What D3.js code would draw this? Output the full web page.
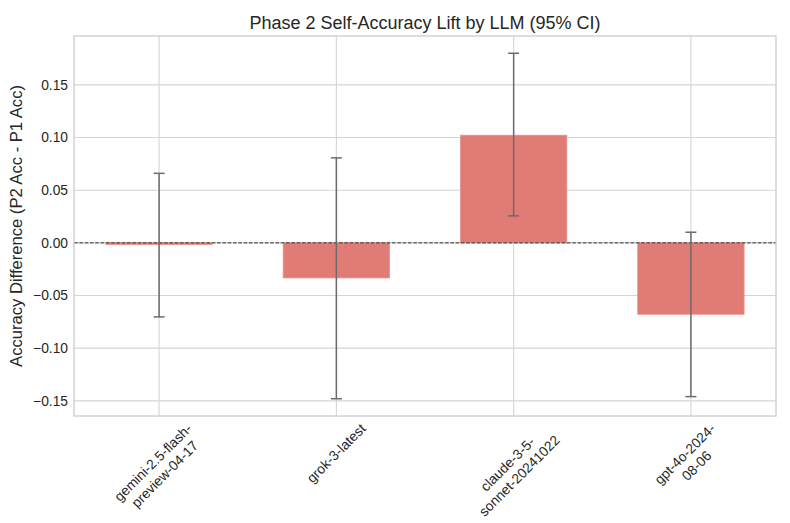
<!DOCTYPE html>
<html>
<head>
<meta charset="utf-8">
<script src="https://cdn.jsdelivr.net/npm/d3@7"></script>
<style>
  body { margin: 0; background: #fff; }
  svg { font-family: "Liberation Sans", Arial, Helvetica, sans-serif; }
</style>
</head>
<body>
<div id="chart"></div>
<script>
// Data
const models = ["gemini-2.5-flash-\npreview-04-17", "grok-3-latest", "claude-3-5-\nsonnet-20241022", "gpt-4o-2024-\n08-06"];
const lift = [-0.0015, -0.0333, 0.1022, -0.0678];
const ciLow = [-0.0703, -0.1480, 0.0256, -0.1460];
const ciHigh = [0.0660, 0.0807, 0.1800, 0.0101];
const yTicks = [-0.15, -0.10, -0.05, 0.00, 0.05, 0.10, 0.15];

// Set up dimensions and margins
const margin = { top: 36, right: 14, bottom: 107, left: 74 };
const width = 790 - margin.left - margin.right;
const height = 523 - margin.top - margin.bottom;

const svgContainer = d3.select("#chart")
    .append("svg")
    .attr("width", width + margin.left + margin.right)
    .attr("height", height + margin.top + margin.bottom);

const svg = svgContainer.append("g")
    .attr("transform", `translate(${margin.left},${margin.top})`);

// Scales (matplotlib-like 5% margins)
const barW = 0.6;
const xMin = -barW / 2, xMax = models.length - 1 + barW / 2;
const xPad = (xMax - xMin) * 0.05;
const x = d3.scaleLinear()
    .domain([xMin - xPad, xMax + xPad])
    .range([0, width]);

const yLo = d3.min(ciLow), yHi = d3.max(ciHigh);
const yPad = (yHi - yLo) * 0.05;
const y = d3.scaleLinear()
    .domain([yLo - yPad, yHi + yPad])
    .range([height, 0]);

const gridColor = "#d5d5d5";
const textColor = "#262626";

// Grid lines
svg.append("g")
    .selectAll("line")
    .data(yTicks)
    .enter()
    .append("line")
    .attr("x1", 0).attr("x2", width)
    .attr("y1", d => y(d)).attr("y2", d => y(d))
    .style("stroke", gridColor)
    .style("stroke-width", 1.1);

svg.append("g")
    .selectAll("line")
    .data(models)
    .enter()
    .append("line")
    .attr("x1", (d, i) => x(i)).attr("x2", (d, i) => x(i))
    .attr("y1", 0).attr("y2", height)
    .style("stroke", gridColor)
    .style("stroke-width", 1.1);

// Bars
svg.selectAll(".bar")
    .data(lift)
    .enter()
    .append("rect")
    .attr("class", "bar")
    .attr("x", (d, i) => x(i - barW / 2))
    .attr("y", d => y(Math.max(0, d)))
    .attr("width", x(barW) - x(0))
    .attr("height", d => Math.abs(y(d) - y(0)))
    .style("fill", "#e17b76")
    .style("stroke", "#e8908b")
    .style("stroke-width", 0.8);

// Zero line
svg.append("line")
    .attr("x1", 0).attr("x2", width)
    .attr("y1", y(0)).attr("y2", y(0))
    .style("stroke", "#333")
    .style("stroke-width", 1)
    .style("stroke-dasharray", "3.7,1.6");

// Error bars
const errColor = "#6b6b6b";
const capHalf = 5.5;
const err = svg.append("g");
models.forEach((m, i) => {
    const cx = x(i);
    err.append("line")
        .attr("x1", cx).attr("x2", cx)
        .attr("y1", y(ciHigh[i])).attr("y2", y(ciLow[i]))
        .style("stroke", errColor).style("stroke-width", 1.5);
    [ciHigh[i], ciLow[i]].forEach(v => {
        err.append("line")
            .attr("x1", cx - capHalf).attr("x2", cx + capHalf)
            .attr("y1", y(v)).attr("y2", y(v))
            .style("stroke", errColor).style("stroke-width", 1.5);
    });
});

// Frame
svg.append("rect")
    .attr("x", 0).attr("y", 0)
    .attr("width", width).attr("height", height)
    .style("fill", "none")
    .style("stroke", "#cccccc")
    .style("stroke-width", 1.3);

// Y axis tick labels
svg.append("g")
    .selectAll("text")
    .data(yTicks)
    .enter()
    .append("text")
    .attr("x", -6)
    .attr("y", d => y(d))
    .attr("dy", "0.35em")
    .attr("text-anchor", "end")
    .style("font-size", "13.8px")
    .style("fill", textColor)
    .text(d => d3.format(".2f")(d).replace("-", "\u2212"));

// X tick labels: rotated 45deg, centred on the tick, multi-line centred
const lineH = 13.8 * 1.2;
models.forEach((m, i) => {
    const outer = svg.append("g");
    const inner = outer.append("g").attr("transform", "rotate(-45)");
    const lines = m.split("\n");
    lines.forEach((ln, k) => {
        inner.append("text")
            .attr("x", 0)
            .attr("y", k * lineH)
            .attr("text-anchor", "middle")
            .style("font-size", "13.8px")
            .style("fill", textColor)
            .text(ln);
    });
    const bb = outer.node().getBBox();
    const cxBox = bb.x + bb.width / 2;
    outer.attr("transform", `translate(${x(i) - cxBox},${height + 5 - bb.y})`);
});

// Y axis label
svg.append("text")
    .attr("transform", `translate(${-52},${height / 2}) rotate(-90)`)
    .attr("text-anchor", "middle")
    .style("font-size", "16.6px")
    .style("fill", textColor)
    .text("Accuracy Difference (P2 Acc - P1 Acc)");

// Title
svg.append("text")
    .attr("x", width / 2)
    .attr("y", -7)
    .attr("text-anchor", "middle")
    .style("font-size", "18px")
    .style("fill", textColor)
    .text("Phase 2 Self-Accuracy Lift by LLM (95% CI)");
</script>
</body>
</html>
